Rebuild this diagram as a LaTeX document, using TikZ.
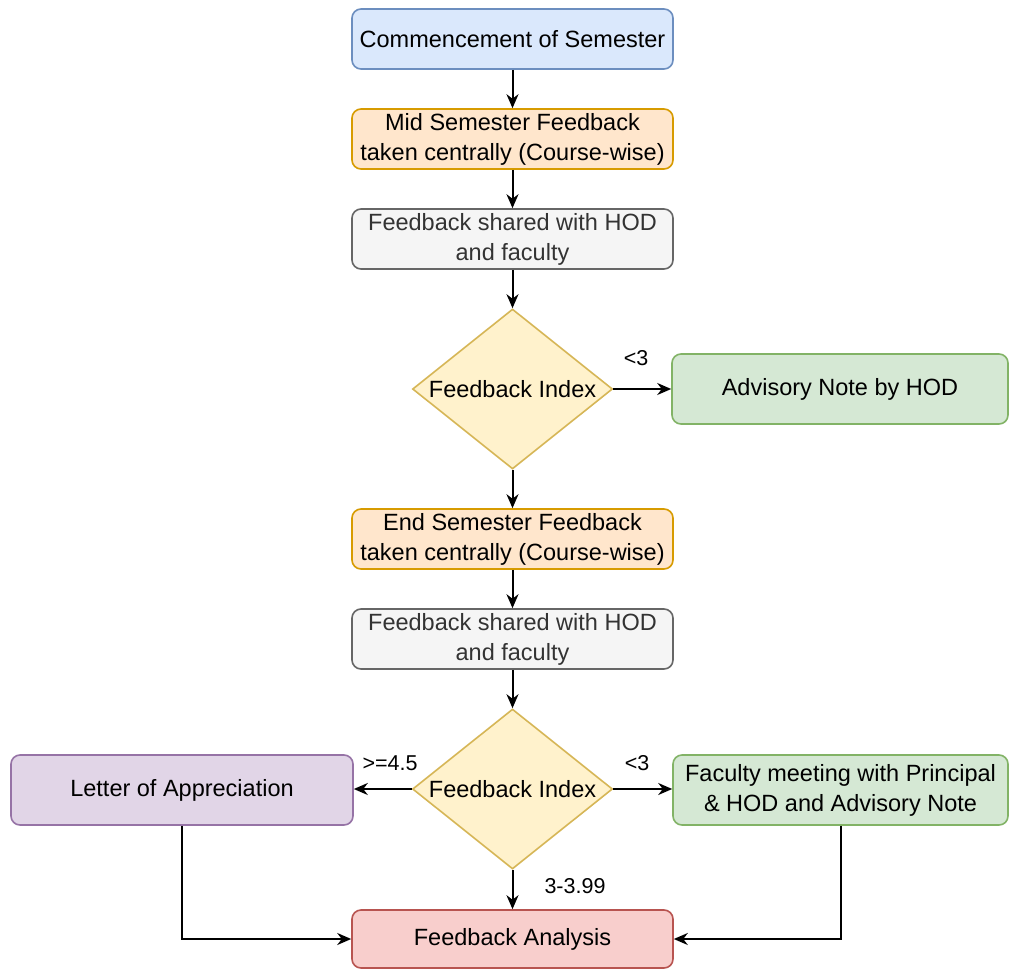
\documentclass[tikz,border=0pt]{standalone}
\usepackage{fontspec}
\setsansfont{Liberation Sans}
\usetikzlibrary{arrows.meta,shapes.geometric}

\begin{document}
\begin{tikzpicture}[x=1pt, y=-1pt, >={Stealth[length=14pt, width=12pt]},
    font=\sffamily\fontsize{23.5}{30}\selectfont,
    box/.style={draw, rounded corners=9pt, line width=1.6pt, minimum width=321pt,
      minimum height=60pt, inner sep=0pt, align=center},
    decision/.style={diamond, draw=yellowline, fill=yellowfill, line width=1.6pt,
      minimum width=200pt, minimum height=160pt, inner sep=0pt, aspect=1.25},
    lbl/.style={font=\sffamily\fontsize{21.5}{26}\selectfont, inner sep=0pt},
    arr/.style={->, line width=2pt}]
  \definecolor{bluefill}{HTML}{DAE8FC}
  \definecolor{blueline}{HTML}{6C8EBF}
  \definecolor{orangefill}{HTML}{FFE6CC}
  \definecolor{orangeline}{HTML}{D79B00}
  \definecolor{grayfill}{HTML}{F5F5F5}
  \definecolor{grayline}{HTML}{666666}
  \definecolor{graytext}{HTML}{333333}
  \definecolor{yellowfill}{HTML}{FFF2CC}
  \definecolor{yellowline}{HTML}{D6B656}
  \definecolor{greenfill}{HTML}{D5E8D4}
  \definecolor{greenline}{HTML}{82B366}
  \definecolor{purplefill}{HTML}{E1D5E7}
  \definecolor{purpleline}{HTML}{9673A6}
  \definecolor{redfill}{HTML}{F8CECC}
  \definecolor{redline}{HTML}{B85450}
  \useasboundingbox[fill=white] (0,0) rectangle (1009,969);

  % mid semester
  \node[box, draw=blueline, fill=bluefill] (start) at (512.5,39) {Commencement of Semester};
  \node[box, draw=orangeline, fill=orangefill] (midfb) at (512.5,139) {Mid Semester Feedback\\taken centrally (Course-wise)};
  \node[box, draw=grayline, fill=grayfill, text=graytext] (share1) at (512.5,239) {Feedback shared with HOD\\and faculty};
  \node[decision] (index1) at (512.5,389) {Feedback Index};
  \node[box, draw=greenline, fill=greenfill, minimum width=336pt, minimum height=70pt] (advise) at (840,389) {Advisory Note by HOD};
  \node[lbl] (lt1) at (636,358) {<3};

  % end semester
  \node[box, draw=orangeline, fill=orangefill] (endfb) at (512.5,539) {End Semester Feedback\\taken centrally (Course-wise)};
  \node[box, draw=grayline, fill=grayfill, text=graytext] (share2) at (512.5,639) {Feedback shared with HOD\\and faculty};
  \node[decision] (index2) at (512.5,789) {Feedback Index};
  \node[box, draw=purpleline, fill=purplefill, minimum width=342pt, minimum height=70pt] (letter) at (182,790) {Letter of Appreciation};
  \node[box, draw=greenline, fill=greenfill, minimum width=335pt, minimum height=70pt] (meeting) at (840.5,790) {Faculty meeting with Principal\\\& HOD and Advisory Note};
  \node[box, draw=redline, fill=redfill, minimum height=58pt] (analysis) at (512.5,939) {Feedback Analysis};
  \node[lbl] (hi) at (390,763) {>=4.5};
  \node[lbl] (lt2) at (637,763) {<3};
  \node[lbl] (mid) at (575,886) {3-3.99};

  \draw[arr] (start) -- (midfb);
  \draw[arr] (midfb) -- (share1);
  \draw[arr] (share1) -- (index1);
  \draw[arr] (index1) -- (advise.west |- index1.east);
  \draw[arr] (index1) -- (endfb);
  \draw[arr] (endfb) -- (share2);
  \draw[arr] (share2) -- (index2);
  \draw[arr] (index2) -- (letter.east |- index2.west);
  \draw[arr] (index2) -- (meeting.west |- index2.east);
  \draw[arr] (index2) -- (analysis);
  \draw[arr] (letter.south) |- (analysis.west);
  \draw[arr] (meeting.south) |- (analysis.east);
\end{tikzpicture}
\end{document}
